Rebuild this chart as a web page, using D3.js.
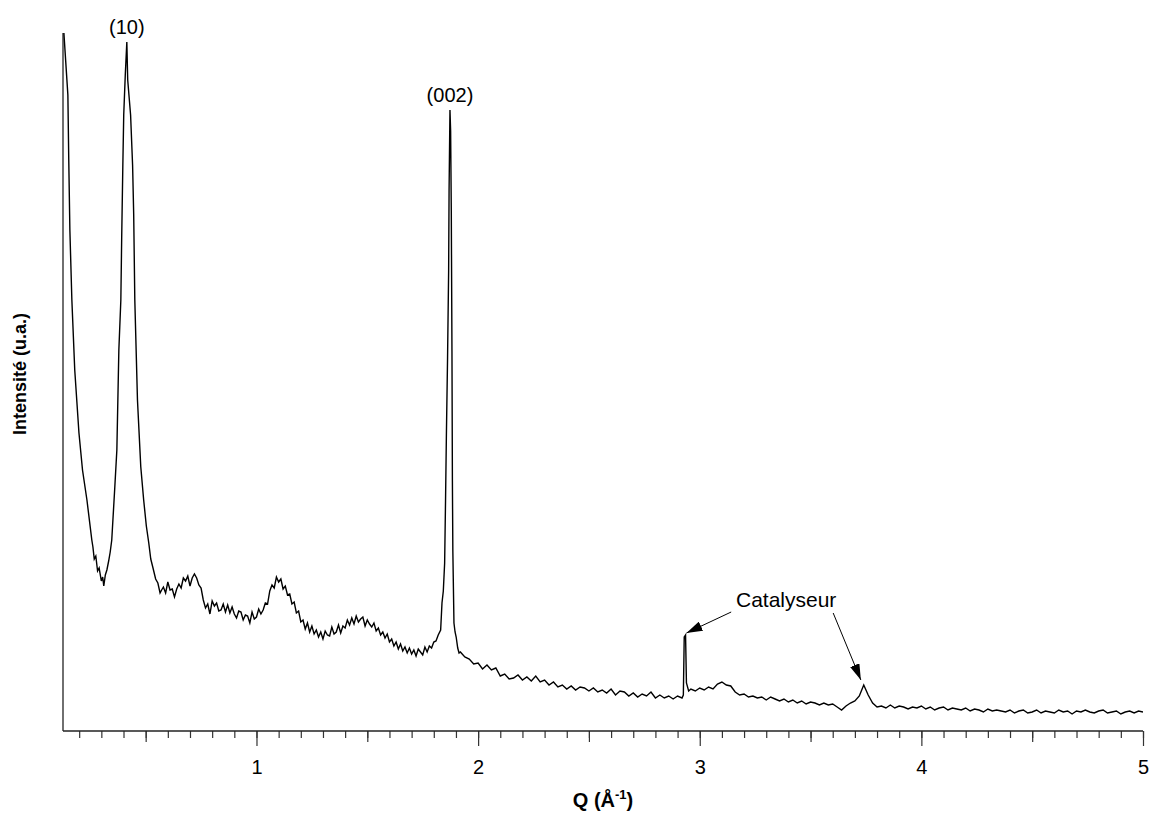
<!DOCTYPE html>
<html>
<head>
<meta charset="utf-8">
<script src="https://cdn.jsdelivr.net/npm/d3@7"></script>
<style>
    body { margin: 0; background: #fff; }
    text { font-family: "Liberation Sans", Arial, sans-serif; fill: #000; }
</style>
</head>
<body>
<svg id="chart" width="1150" height="813"></svg>
<script>
/* Diffraction pattern, intensity in arbitrary units */

// Low Q: steep rise, (10) peak
const lowQ = [0.128, 0.131, 0.149, 0.153, 0.158, 0.167, 0.180, 0.199, 0.215, 0.235, 0.257, 0.262, 0.268, 0.275,
    0.283, 0.290, 0.300, 0.306, 0.311, 0.318, 0.325, 0.333, 0.340, 0.347, 0.360, 0.370, 0.379, 0.388, 0.392, 0.397,
    0.401, 0.408, 0.415, 0.419, 0.432, 0.441, 0.446, 0.451, 0.463, 0.478, 0.491, 0.503, 0.514, 0.523, 0.532, 0.545,
    0.555, 0.565, 0.572];
const lowI = [740, 698, 636, 571, 501, 431, 361, 298, 261, 231, 191, 184, 172, 175,
    160, 163, 150, 154, 145, 156, 161, 170, 179, 191, 241, 281, 381, 431, 496, 566,
    616, 656, 689, 651, 616, 566, 516, 431, 331, 264, 231, 205, 188, 172, 164, 152,
    148, 138, 141];

// Broad bumps, Q = 0.58 .. 1.82 by 0.01
const bandStart = 0.58;
const bandStep = 0.01;
const bandI = [
    144, 138, 149, 141, 142, 134, 142, 147, 143, 153,
    150, 155, 145, 153, 157, 153, 146, 143, 131, 123,
    127, 117, 130, 125, 128, 120, 121, 127, 119, 126,
    118, 124, 117, 113, 120, 119, 111, 116, 115, 108,
    119, 112, 114, 122, 117, 121, 128, 127, 140, 146,
    143, 154, 149, 152, 142, 145, 136, 137, 127, 129,
    118, 120, 109, 111, 102, 108, 99, 105, 97, 101,
    94, 99, 92, 100, 96, 95, 104, 97, 99, 106,
    98, 105, 103, 111, 106, 113, 107, 115, 109, 112,
    114, 105, 111, 107, 104, 108, 100, 103, 96, 99,
    93, 97, 89, 92, 85, 89, 82, 87, 80, 84,
    78, 83, 77, 81, 75, 82, 79, 76, 84, 79,
    85, 83, 89, 90, 96
];

// (002) peak
const peakQ = [1.831, 1.837, 1.843, 1.849, 1.853, 1.857, 1.862, 1.867, 1.869, 1.873, 1.876, 1.879, 1.882,
    1.884, 1.886, 1.891, 1.896, 1.901, 1.908, 1.914];
const peakI = [101, 128, 140, 168, 230, 298, 371, 460, 541, 621, 600, 520, 380,
    250, 180, 108, 99, 94, 83, 78];

// Tail, Q = 1.92 .. 2.92 by 0.02
const tailStart = 1.92;
const tailStep = 0.02;
const tailI = [
    79, 74, 72, 67, 68, 62, 66, 61, 63, 55,
    57, 52, 53, 56, 51, 54, 50, 55, 49, 51,
    46, 49, 44, 46, 42, 45, 41, 44, 43, 40,
    43, 39, 41, 38, 42, 36, 40, 39, 35, 38,
    34, 37, 35, 39, 33, 36, 33, 35, 32, 35,
    33
];

// Catalyst spike
const spikeQ = [2.926, 2.930, 2.936, 2.940, 2.950];
const spikeI = [36, 94, 96, 48, 40];

// Tail, Q = 2.96 .. 5.00 by 0.02
const endStart = 2.96;
const endStep = 0.02;
const endI = [
    42, 40, 43, 41, 44, 42, 47, 49, 46, 45,
    39, 36, 37, 34, 35, 33, 34, 31, 34, 32,
    30, 32, 29, 31, 28, 30, 27, 29, 28, 26,
    28, 26, 27, 24, 21, 25, 28, 30, 35, 46,
    36, 28, 24, 25, 23, 26, 23, 25, 24, 22,
    24, 23, 25, 22, 24, 21, 23, 24, 21, 23,
    22, 21, 23, 20, 22, 21, 19, 22, 20, 21,
    20, 19, 21, 18, 20, 21, 18, 19, 21, 18,
    20, 19, 18, 21, 19, 20, 17, 20, 19, 21,
    19, 18, 20, 21, 18, 19, 20, 17, 19, 20,
    18, 20, 19
];

const majorTicks = [1, 2, 3, 4, 5];
const peakLabels = [
    { label: "(10)", q: 0.415, i: 689 },
    { label: "(002)", q: 1.873, i: 621 }
];
const catalystLabel = { label: "Catalyseur", q: 3.39, i: 131 };
const catalystTargets = [{ q: 2.94, i: 98 }, { q: 3.727, i: 51 }];

const xLabel = "Q (Å";
const yLabel = "Intensité (u.a.)";

// Build spectrum
const spectrum = [];
lowQ.forEach((q, k) => spectrum.push([q, lowI[k]]));
bandI.forEach((v, k) => spectrum.push([bandStart + k * bandStep, v]));
peakQ.forEach((q, k) => spectrum.push([q, peakI[k]]));
tailI.forEach((v, k) => spectrum.push([tailStart + k * tailStep, v]));
spikeQ.forEach((q, k) => spectrum.push([q, spikeI[k]]));
endI.forEach((v, k) => spectrum.push([endStart + k * endStep, v]));

const svg = d3.select("#chart");
const plot = { left: 63, right: 1143, top: 33, bottom: 731 };

const x = d3.scaleLinear().domain([0.127, 5]).range([plot.left, plot.right]);
const y = d3.scaleLinear().domain([0, 698]).range([plot.bottom, plot.top]);

svg.append("defs")
    .append("clipPath")
    .attr("id", "plot-clip")
    .append("rect")
    .attr("x", plot.left)
    .attr("y", plot.top)
    .attr("width", plot.right - plot.left)
    .attr("height", plot.bottom - plot.top);

// Arrow marker
svg.select("defs")
    .append("marker")
    .attr("id", "arrow")
    .attr("viewBox", "0 0 16 10")
    .attr("refX", 16)
    .attr("refY", 5)
    .attr("markerWidth", 16)
    .attr("markerHeight", 10)
    .attr("markerUnits", "userSpaceOnUse")
    .attr("orient", "auto")
    .append("path")
    .attr("d", "M0,0 L16,5 L0,10 Z")
    .attr("fill", "#000");

// x axis: minor, half and major ticks
const minorTicks = d3.range(2, 51).map(d => d / 10);
const halfTicks = d3.range(1, 10, 2).map(d => d / 2);

function drawAxis(values, size, labels) {
    const g = svg.append("g")
        .attr("transform", `translate(0,${plot.bottom})`)
        .call(d3.axisBottom(x)
            .tickValues(values)
            .tickSize(size)
            .tickPadding(14)
            .tickFormat(labels ? d3.format("d") : ""));
    g.select(".domain").remove();
    g.selectAll(".tick line").attr("stroke", "#333").attr("stroke-width", 1.2);
    g.selectAll(".tick text")
        .attr("font-size", "20px")
        .attr("font-family", "Liberation Sans, Arial, sans-serif")
        .attr("fill", "#000");
    return g;
}
drawAxis(minorTicks, 7, false);
drawAxis(halfTicks, 11, false);
drawAxis(majorTicks, 15, true);

// Axis lines
svg.append("line")
    .attr("x1", plot.left).attr("x2", plot.right)
    .attr("y1", plot.bottom).attr("y2", plot.bottom)
    .attr("stroke", "#222").attr("stroke-width", 1.3);
svg.append("line")
    .attr("x1", plot.left).attr("x2", plot.left)
    .attr("y1", plot.top).attr("y2", plot.bottom)
    .attr("stroke", "#222").attr("stroke-width", 1.3);

// Spectrum
const line = d3.line().x(d => x(d[0])).y(d => y(d[1]));
svg.append("path")
    .datum(spectrum)
    .attr("clip-path", "url(#plot-clip)")
    .attr("d", line)
    .attr("fill", "none")
    .attr("stroke", "#000")
    .attr("stroke-width", 1.4)
    .attr("stroke-linejoin", "miter");

// Peak labels
svg.selectAll("text.peak")
    .data(peakLabels)
    .enter()
    .append("text")
    .classed("peak", true)
    .attr("x", d => x(d.q))
    .attr("y", d => y(d.i) - 8)
    .attr("text-anchor", "middle")
    .attr("font-size", "20px")
    .text(d => d.label);

// Catalyst annotation
const cx = x(catalystLabel.q);
const cy = y(catalystLabel.i);
svg.append("text")
    .attr("x", cx)
    .attr("y", cy + 7)
    .attr("text-anchor", "middle")
    .attr("font-size", "21px")
    .text(catalystLabel.label);

const arrowStarts = [[cx - 55, cy + 12], [cx + 47, cy + 13]];
svg.selectAll("line.arrow")
    .data(catalystTargets)
    .enter()
    .append("line")
    .classed("arrow", true)
    .attr("x1", (d, k) => arrowStarts[k][0])
    .attr("y1", (d, k) => arrowStarts[k][1])
    .attr("x2", d => x(d.q))
    .attr("y2", d => y(d.i))
    .attr("stroke", "#000")
    .attr("stroke-width", 1)
    .attr("marker-end", "url(#arrow)");

// Axis titles
const xt = svg.append("text")
    .attr("x", (plot.left + plot.right) / 2)
    .attr("y", 807)
    .attr("text-anchor", "middle")
    .attr("font-size", "20px")
    .attr("font-weight", "bold");
xt.append("tspan").text(xLabel);
xt.append("tspan").attr("dy", -8).attr("font-size", "13px").text("-1");
xt.append("tspan").attr("dy", 8).text(")");

svg.append("text")
    .attr("transform", `translate(26,374) rotate(-90)`)
    .attr("text-anchor", "middle")
    .attr("font-size", "18px")
    .attr("font-weight", "bold")
    .text(yLabel);
</script>
</body>
</html>
